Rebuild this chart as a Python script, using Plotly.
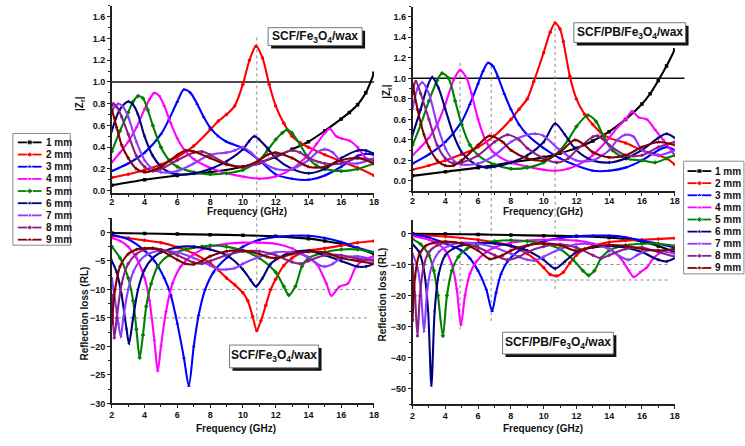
import plotly.graph_objects as go

FONT = "Liberation Sans, Arial, sans-serif"
W, H = 745, 446
F_MIN, F_MAX = 2, 18

THICKNESS = ["1 mm", "2 mm", "3 mm", "4 mm", "5 mm", "6 mm", "7 mm", "8 mm", "9 mm"]
COLORS = ["#000000", "#FF0000", "#0000FF", "#FF00FF", "#008000",
          "#000080", "#8F3BFF", "#8B1F8B", "#800000"]
SYMBOLS = ["square", "circle", "triangle-up", "triangle-down", "diamond",
           "triangle-left", "triangle-right", "hexagon", "star"]

# ---------------- |Zr| : SCF/Fe3O4/wax ----------------
za_f1 = [2, 4, 6, 8, 10, 12, 13, 14, 15, 16, 16.5, 17, 17.5, 18]
za_v1 = [0.05, 0.10, 0.14, 0.17, 0.22, 0.31, 0.38, 0.45, 0.55, 0.66, 0.72, 0.79, 0.90, 1.08]
za_f2 = [2, 3, 4, 5, 6, 7, 8, 8.5, 9, 9.5, 10, 10.4, 10.8, 11.2, 11.6, 12, 12.5, 13, 13.5, 14, 15, 16, 17, 18]
za_v2 = [0.12, 0.15, 0.19, 0.24, 0.31, 0.41, 0.56, 0.64, 0.70, 0.78, 0.98, 1.20, 1.33, 1.22, 0.98, 0.78,
         0.62, 0.50, 0.44, 0.40, 0.33, 0.27, 0.21, 0.14]
za_f3 = [2, 3, 4, 5, 5.5, 6, 6.4, 6.8, 7.2, 7.6, 8, 8.5, 9, 10, 11, 12, 13, 14, 15, 16, 17, 17.5, 18]
za_v3 = [0.18, 0.25, 0.35, 0.52, 0.66, 0.82, 0.93, 0.90, 0.80, 0.68, 0.58, 0.50, 0.45, 0.39, 0.28, 0.15,
         0.11, 0.10, 0.14, 0.22, 0.32, 0.34, 0.33]
za_f4 = [2, 2.5, 3, 3.5, 4, 4.3, 4.6, 4.9, 5.2, 5.6, 6, 6.5, 7, 8, 9, 10, 11, 12, 13, 13.5, 14, 14.5,
         15, 15.3, 15.7, 16, 16.5, 17, 17.5, 18]
za_v4 = [0.26, 0.35, 0.45, 0.58, 0.75, 0.84, 0.90, 0.87, 0.78, 0.62, 0.48, 0.36, 0.29, 0.21, 0.16, 0.13,
         0.11, 0.13, 0.20, 0.26, 0.33, 0.43, 0.53, 0.57, 0.50, 0.48, 0.46, 0.40, 0.30, 0.25]
za_f5 = [2, 2.5, 3, 3.3, 3.6, 3.9, 4.2, 4.5, 5, 5.5, 6, 7, 8, 9, 10, 11, 11.5, 12, 12.4, 12.7, 13, 13.5,
         14, 14.5, 15, 16, 17, 18]
za_v5 = [0.36, 0.55, 0.72, 0.82, 0.87, 0.85, 0.74, 0.60, 0.40, 0.28, 0.22, 0.17, 0.15, 0.16, 0.19, 0.28,
         0.37, 0.47, 0.53, 0.56, 0.53, 0.42, 0.30, 0.23, 0.20, 0.18, 0.20, 0.25]
za_f6 = [2, 2.5, 3, 3.3, 3.6, 4, 4.5, 5, 5.5, 6, 7, 8, 9, 10, 10.4, 10.7, 11, 11.5, 12, 13, 14, 15, 16,
         17, 17.5, 18]
za_v6 = [0.55, 0.75, 0.82, 0.79, 0.70, 0.50, 0.32, 0.22, 0.17, 0.15, 0.16, 0.20, 0.27, 0.38, 0.46, 0.50,
         0.47, 0.39, 0.30, 0.20, 0.16, 0.20, 0.30, 0.37, 0.37, 0.34]
za_f7 = [2, 2.2, 2.4, 2.7, 3, 3.5, 4, 4.5, 5, 6, 7, 8, 9, 9.5, 10, 10.5, 11, 12, 13, 14, 14.5, 15, 15.5,
         16, 17, 18]
za_v7 = [0.72, 0.78, 0.80, 0.77, 0.68, 0.45, 0.28, 0.20, 0.17, 0.18, 0.25, 0.33, 0.35, 0.37, 0.40, 0.35,
         0.28, 0.20, 0.20, 0.28, 0.35, 0.38, 0.35, 0.27, 0.25, 0.30]
za_f8 = [2, 2.1, 2.3, 2.6, 3, 3.5, 4, 4.5, 5, 6, 7, 7.5, 8, 9, 10, 11, 12, 13, 13.5, 14, 15, 16, 17, 18]
za_v8 = [0.78, 0.80, 0.77, 0.68, 0.52, 0.32, 0.22, 0.18, 0.20, 0.28, 0.35, 0.36, 0.33, 0.25, 0.22, 0.25,
         0.32, 0.37, 0.35, 0.30, 0.25, 0.25, 0.30, 0.28]
za_f9 = [2, 2.3, 2.6, 3, 3.5, 4, 5, 6, 6.5, 7, 8, 9, 10, 11, 11.5, 12, 13, 14, 15, 16, 17, 18]
za_v9 = [0.75, 0.58, 0.42, 0.30, 0.20, 0.17, 0.22, 0.33, 0.37, 0.36, 0.30, 0.24, 0.22, 0.28, 0.33, 0.35,
         0.30, 0.22, 0.22, 0.28, 0.30, 0.25]

# ---------------- |Zr| : SCF/PB/Fe3O4/wax ----------------
zb_f1 = [2, 4, 6, 8, 10, 11, 12, 13, 14, 15, 16, 16.5, 17, 17.5, 18]
zb_v1 = [0.05, 0.09, 0.13, 0.18, 0.23, 0.27, 0.32, 0.39, 0.48, 0.60, 0.75, 0.85, 0.98, 1.12, 1.28]
zb_f2 = [2, 3, 4, 5, 6, 7, 8, 8.5, 9, 9.4, 10, 10.4, 10.7, 11, 11.2, 11.6, 12, 12.5, 13, 13.5, 14, 15,
         16, 17, 17.5, 18]
zb_v2 = [0.11, 0.15, 0.20, 0.26, 0.33, 0.44, 0.60, 0.70, 0.80, 0.97, 1.25, 1.45, 1.54, 1.48, 1.36, 1.02,
         0.80, 0.65, 0.55, 0.47, 0.42, 0.37, 0.30, 0.25, 0.22, 0.16]
zb_f3 = [2, 3, 4, 5, 5.5, 6, 6.3, 6.6, 6.9, 7.2, 7.6, 8, 8.5, 9, 10, 11, 12, 13, 14, 15, 16, 17, 17.5, 18]
zb_v3 = [0.17, 0.26, 0.38, 0.58, 0.75, 0.95, 1.07, 1.15, 1.12, 1.02, 0.85, 0.70, 0.55, 0.45, 0.32, 0.22,
         0.15, 0.10, 0.10, 0.13, 0.20, 0.30, 0.33, 0.30]
zb_f4 = [2, 2.5, 3, 3.5, 4, 4.5, 4.9, 5.3, 5.6, 6, 6.5, 7, 8, 9, 10, 10.7, 11.5, 12, 13, 14, 14.5, 15,
         15.4, 15.8, 16.3, 16.8, 17.3, 18]
zb_v4 = [0.25, 0.33, 0.42, 0.55, 0.75, 0.98, 1.08, 1.00, 0.85, 0.60, 0.38, 0.27, 0.18, 0.14, 0.11, 0.10,
         0.12, 0.15, 0.25, 0.42, 0.52, 0.60, 0.68, 0.62, 0.60, 0.50, 0.40, 0.25]
zb_f5 = [2, 2.5, 3, 3.5, 3.8, 4.2, 4.6, 5, 5.5, 6, 7, 8, 9, 10, 11, 11.5, 12, 12.7, 13.2, 13.7, 14.2, 15,
         16, 16.8, 17.5, 18]
zb_v5 = [0.35, 0.55, 0.78, 0.98, 1.05, 1.00, 0.78, 0.55, 0.35, 0.25, 0.16, 0.12, 0.13, 0.18, 0.30, 0.40,
         0.53, 0.64, 0.58, 0.42, 0.30, 0.22, 0.20, 0.18, 0.22, 0.25]
zb_f6 = [2, 2.5, 2.9, 3.2, 3.6, 4, 4.5, 5, 5.5, 6, 6.5, 7, 8, 9, 10, 10.7, 11.3, 12, 13, 14, 15, 16, 17,
         17.5, 18]
zb_v6 = [0.45, 0.70, 0.92, 1.01, 0.90, 0.70, 0.45, 0.28, 0.20, 0.15, 0.13, 0.14, 0.18, 0.25, 0.38, 0.56,
         0.45, 0.30, 0.20, 0.18, 0.22, 0.30, 0.42, 0.46, 0.42]
zb_f7 = [2, 2.3, 2.6, 3, 3.5, 4, 4.5, 5, 6, 7, 8, 9, 9.5, 10, 11, 12, 13, 14, 14.5, 15, 15.5, 16, 17, 18]
zb_v7 = [0.70, 0.90, 0.96, 0.85, 0.55, 0.32, 0.20, 0.16, 0.17, 0.25, 0.38, 0.45, 0.46, 0.44, 0.30, 0.20,
         0.20, 0.30, 0.40, 0.45, 0.43, 0.30, 0.25, 0.30]
zb_f8 = [2, 2.2, 2.5, 3, 3.5, 4, 4.5, 5, 6, 7, 7.8, 8.5, 9, 10, 10.8, 11.5, 12, 13, 13.3, 14, 15, 16, 17, 18]
zb_v8 = [0.85, 0.97, 0.85, 0.60, 0.35, 0.22, 0.17, 0.18, 0.25, 0.38, 0.45, 0.40, 0.32, 0.22, 0.18, 0.22,
         0.30, 0.43, 0.44, 0.35, 0.25, 0.25, 0.33, 0.38]
zb_f9 = [2, 2.3, 2.7, 3, 3.5, 4, 4.5, 5, 6, 6.7, 7.5, 8, 9, 10, 11, 11.9, 12.5, 13, 14, 15, 16, 17, 18]
zb_v9 = [0.95, 0.70, 0.45, 0.33, 0.20, 0.15, 0.15, 0.20, 0.35, 0.44, 0.38, 0.30, 0.22, 0.20, 0.28, 0.40,
         0.35, 0.28, 0.23, 0.25, 0.33, 0.38, 0.35]

# ---------------- RL (dB) : SCF/Fe3O4/wax ----------------
ra_f1 = [2, 4, 6, 8, 10, 12, 14, 15, 16, 17, 18]
ra_v1 = [-0.1, -0.2, -0.3, -0.4, -0.5, -0.7, -1.1, -1.5, -2.0, -2.8, -3.8]
ra_f2 = [2, 3, 4, 5, 6, 7, 8, 8.5, 9, 9.5, 10, 10.3, 10.6, 10.85, 11.1, 11.4, 11.7, 12, 12.5, 13, 13.5,
         14, 15, 16, 17, 18]
ra_v2 = [-0.6, -1.0, -1.4, -1.8, -2.6, -3.7, -5.4, -6.6, -8.0, -9.2, -10.6, -12.0, -14.8, -17.2, -15.5,
         -12.8, -10.0, -8.2, -5.8, -4.5, -3.7, -3.2, -2.8, -2.3, -1.8, -1.5]
ra_f3 = [2, 3, 4, 4.6, 5.2, 5.6, 6, 6.4, 6.7, 7, 7.3, 7.7, 8.2, 9, 10, 11, 12, 13, 14, 15, 16, 17, 18]
ra_v3 = [-0.4, -1.2, -3.2, -5.0, -8.0, -11.0, -16.0, -22.0, -26.9, -20.0, -14.5, -10.0, -7.0, -4.5,
         -2.5, -1.3, -0.8, -0.6, -0.6, -1.0, -1.7, -2.7, -3.5]
ra_f4 = [2, 2.5, 3, 3.5, 4, 4.3, 4.6, 4.8, 5, 5.3, 5.7, 6.2, 7, 8, 9, 10, 11, 12, 13, 14, 14.5, 15.1,
         15.4, 15.9, 16.4, 16.9, 17.4, 18]
ra_v4 = [-1.0, -1.5, -2.5, -4.5, -8.0, -12.0, -19.0, -24.3, -20.0, -14.0, -9.0, -6.0, -3.8, -2.5, -2.0,
         -1.8, -1.8, -2.0, -2.8, -4.5, -5.5, -9.0, -11.1, -9.5, -9.0, -6.0, -4.8, -4.2]
ra_f5 = [2, 2.5, 3, 3.3, 3.5, 3.7, 3.9, 4.1, 4.4, 4.8, 5.5, 6.5, 7.5, 8, 9, 10, 11, 12, 12.5, 12.8, 13.2,
         13.6, 14, 15, 16, 17, 18]
ra_v5 = [-2.5, -4.5, -8.0, -12.0, -17.0, -22.0, -18.0, -13.0, -9.0, -6.0, -4.0, -3.0, -2.5, -2.3, -2.5,
         -3.2, -4.5, -7.0, -9.5, -11.0, -9.5, -6.0, -4.5, -3.5, -3.0, -3.0, -3.5]
ra_f6 = [2, 2.3, 2.6, 2.9, 3.05, 3.3, 3.6, 4, 4.5, 5, 6, 7, 8, 9, 10, 10.5, 10.8, 11.2, 11.7, 12.5, 13,
         14, 15, 16, 17, 17.5, 18]
ra_v6 = [-5.0, -7.0, -11.0, -17.0, -19.5, -15.0, -10.0, -6.5, -4.5, -3.5, -2.6, -2.5, -3.0, -4.0, -6.5,
         -8.5, -9.5, -8.0, -5.5, -4.0, -3.5, -3.2, -4.0, -5.0, -6.0, -6.0, -5.5]
ra_f7 = [2, 2.2, 2.4, 2.55, 2.7, 3, 3.3, 3.7, 4.2, 5, 6, 7, 8, 8.5, 9, 9.5, 10, 11, 12, 13, 14, 14.5, 15,
         15.5, 16, 17, 18]
ra_v7 = [-8.0, -12.0, -16.0, -18.3, -15.0, -10.0, -7.0, -5.0, -3.8, -3.2, -3.5, -4.5, -5.8, -6.5, -6.5,
         -6.3, -5.5, -4.3, -3.5, -3.5, -4.3, -5.5, -6.0, -5.5, -4.5, -4.2, -4.8]
ra_f8 = [2, 2.15, 2.3, 2.6, 3, 3.5, 4, 4.5, 5, 6, 7, 7.5, 8, 9, 10, 11, 12, 13, 13.5, 14, 15, 16, 17, 18]
ra_v8 = [-11.0, -18.5, -15.0, -9.0, -5.5, -3.8, -3.0, -2.8, -3.0, -4.0, -5.3, -5.5, -5.0, -4.0, -3.3,
         -3.3, -4.0, -5.2, -5.5, -5.0, -4.0, -4.0, -4.6, -5.0]
ra_f9 = [2, 2.2, 2.5, 3, 3.5, 4, 4.5, 5, 6, 6.5, 7, 7.5, 8, 9, 10, 11, 11.5, 12, 12.5, 13, 14, 15, 16,
         17, 18]
ra_v9 = [-16.0, -10.0, -6.0, -3.8, -3.0, -2.8, -2.8, -3.2, -4.8, -5.5, -5.6, -5.0, -4.2, -3.3, -3.2,
         -3.8, -4.3, -4.5, -4.2, -3.8, -3.4, -3.5, -4.5, -5.0, -5.5]

# ---------------- RL (dB) : SCF/PB/Fe3O4/wax ----------------
rb_f1 = [2, 4, 6, 8, 10, 12, 14, 15, 16, 17, 18]
rb_v1 = [-0.1, -0.2, -0.3, -0.5, -0.7, -0.9, -1.3, -1.8, -2.6, -4.0, -6.0]
rb_f2 = [2, 4, 6, 7, 8, 9, 9.5, 10, 10.4, 10.8, 11.2, 11.6, 12, 12.5, 13, 14, 15, 16, 17, 18]
rb_v2 = [-0.5, -1.0, -2.0, -2.8, -4.0, -6.5, -8.5, -11.0, -13.2, -13.7, -12.5, -9.5, -7.0, -5.0, -4.0,
         -2.8, -2.3, -2.0, -1.8, -1.5]
rb_f3 = [2, 3, 4, 5, 5.5, 6, 6.5, 6.85, 7.1, 7.4, 7.8, 8.5, 9, 10, 11, 12, 13, 14, 15, 16, 17, 18]
rb_v3 = [-0.3, -1.3, -3.2, -5.5, -8.0, -12.0, -18.0, -25.0, -19.0, -13.0, -9.0, -5.5, -4.0, -2.5, -1.5,
         -1.0, -0.7, -0.7, -1.2, -2.3, -3.3, -4.5]
rb_f4 = [2, 3, 3.5, 4, 4.4, 4.7, 4.95, 5.2, 5.5, 5.9, 6.5, 7, 8, 9, 10, 11, 12, 13, 14, 14.7, 15.2, 15.5,
         15.9, 16.3, 16.7, 17.2, 18]
rb_v4 = [-0.8, -2.0, -3.2, -5.5, -10.0, -18.0, -29.5, -20.0, -13.0, -9.0, -6.0, -4.5, -3.0, -2.3, -2.0,
         -2.0, -2.3, -3.2, -5.0, -8.0, -12.0, -14.0, -12.5, -11.0, -8.0, -6.0, -5.0]
rb_f5 = [2, 2.5, 3, 3.3, 3.55, 3.85, 4.1, 4.4, 4.8, 5.3, 6, 7, 8, 9, 10, 11, 11.8, 12.4, 12.75, 13.1,
         13.5, 14, 15, 16, 17, 18]
rb_v5 = [-1.8, -3.5, -7.0, -12.0, -20.0, -33.0, -20.0, -12.0, -7.5, -5.0, -3.5, -2.5, -2.2, -2.5, -3.2,
         -5.0, -8.5, -12.0, -13.5, -12.0, -8.0, -5.5, -3.8, -3.3, -3.3, -4.0]
rb_f6 = [2, 2.4, 2.7, 2.95, 3.15, 3.35, 3.6, 4, 4.5, 5, 6, 7, 8, 9, 10, 10.7, 11.3, 12, 13, 14, 15, 16,
         17, 17.5, 18]
rb_v6 = [-3.5, -6.0, -12.0, -25.0, -49.0, -25.0, -13.0, -7.0, -4.8, -3.8, -3.0, -3.2, -4.0, -5.5, -8.5,
         -11.3, -9.0, -6.0, -4.5, -4.0, -4.5, -6.0, -8.5, -9.0, -8.0]
rb_f7 = [2, 2.3, 2.5, 2.7, 2.9, 3.2, 3.6, 4.2, 5, 6, 7, 8, 9, 9.5, 10, 11, 12, 13, 14, 14.7, 15.2, 15.7,
         16.3, 17, 18]
rb_v7 = [-6.5, -11.0, -18.0, -31.5, -18.0, -10.0, -6.0, -4.0, -3.0, -3.3, -4.5, -6.5, -8.5, -8.7, -7.5,
         -5.0, -3.5, -3.5, -5.0, -7.5, -8.5, -7.0, -5.5, -5.5, -6.5]
rb_f8 = [2, 2.15, 2.3, 2.45, 2.7, 3, 3.5, 4, 5, 6, 7, 7.8, 8.5, 9, 10, 11, 12, 13, 13.5, 14, 15, 16, 17, 18]
rb_v8 = [-10.0, -20.0, -33.0, -20.0, -10.0, -6.0, -3.8, -3.0, -3.2, -4.5, -7.0, -8.5, -7.5, -6.0, -4.2,
         -3.5, -4.5, -7.0, -8.0, -7.0, -5.0, -4.5, -6.0, -7.5]
rb_f9 = [2, 2.15, 2.4, 2.8, 3.3, 4, 5, 6, 6.7, 7.5, 8, 9, 10, 11, 11.9, 12.5, 13, 14, 15, 16, 17, 18]
rb_v9 = [-28.0, -14.0, -7.0, -4.0, -3.0, -2.6, -3.2, -5.5, -8.2, -7.0, -5.5, -3.8, -3.2, -3.8, -5.5,
         -5.0, -4.2, -3.7, -4.0, -5.0, -5.5, -5.0]

# reference guides: matching frequencies (GHz) and the value span they cover
GUIDE_A_FREQ = [10.85]
GUIDE_A_TOP = [1.41]
GUIDE_A_BOTTOM = [-15.5]
GUIDE_B_FREQ = [4.9, 6.8, 10.7]
GUIDE_B_TOP = [1.15, 1.12, 1.55]
GUIDE_B_BOTTOM = [-31.0, -29.0, -18.0]
RL_LEVELS = [-10, -15]

LABEL_A = "SCF/Fe<sub>3</sub>O<sub>4</sub>/wax"
LABEL_B = "SCF/PB/Fe<sub>3</sub>O<sub>4</sub>/wax"

PANEL_DATA = {
    "tl": list(zip([za_f1, za_f2, za_f3, za_f4, za_f5, za_f6, za_f7, za_f8, za_f9],
                   [za_v1, za_v2, za_v3, za_v4, za_v5, za_v6, za_v7, za_v8, za_v9])),
    "tr": list(zip([zb_f1, zb_f2, zb_f3, zb_f4, zb_f5, zb_f6, zb_f7, zb_f8, zb_f9],
                   [zb_v1, zb_v2, zb_v3, zb_v4, zb_v5, zb_v6, zb_v7, zb_v8, zb_v9])),
    "bl": list(zip([ra_f1, ra_f2, ra_f3, ra_f4, ra_f5, ra_f6, ra_f7, ra_f8, ra_f9],
                   [ra_v1, ra_v2, ra_v3, ra_v4, ra_v5, ra_v6, ra_v7, ra_v8, ra_v9])),
    "br": list(zip([rb_f1, rb_f2, rb_f3, rb_f4, rb_f5, rb_f6, rb_f7, rb_f8, rb_f9],
                   [rb_v1, rb_v2, rb_v3, rb_v4, rb_v5, rb_v6, rb_v7, rb_v8, rb_v9])),
}

# panel geometry in pixels: left, right, top, bottom, y-min, y-max
GEOM = {
    "tl": (110, 375, 6.0, 195.0, -0.02, 1.7),
    "tr": (414, 679, 6.6, 193.4, -0.1, 1.7),
    "bl": (110, 375, 220.6, 408.0, -30, 2.5),
    "br": (414, 679, 222.0, 408.7, -55, 4.5),
}
AXES = {"tl": ("x", "y"), "tr": ("x2", "y2"), "bl": ("x3", "y3"), "br": ("x4", "y4")}
YTICK = {"tl": (0.2, 0.1, ".1f"), "tr": (0.2, 0.1, ".1f"), "bl": (5, 2.5, "d"), "br": (10, 5, "d")}
XLABEL_SHIFT = {"tl": -3, "tr": -3, "bl": -1, "br": -1}


def to_px(panel, f, v):
    x0, x1, y0, y1, ymin, ymax = GEOM[panel]
    px = x0 + (f - F_MIN) / (F_MAX - F_MIN) * (x1 - x0)
    py = y1 - (v - ymin) / (ymax - ymin) * (y1 - y0)
    return px, py


def pap_x(px):
    return px / W


def pap_y(py):
    return 1 - py / H


fig = go.Figure()

for panel, series in PANEL_DATA.items():
    xa, ya = AXES[panel]
    for i, (fs, vs) in enumerate(series):
        fig.add_trace(go.Scatter(
            x=fs, y=vs, xaxis=xa, yaxis=ya, mode="lines+markers",
            name=THICKNESS[i], showlegend=False, hoverinfo="skip",
            line=dict(color=COLORS[i], width=2.1, shape="spline", smoothing=0.8),
            marker=dict(symbol=SYMBOLS[i], size=3.5, color=COLORS[i]),
        ))

tick_font = dict(family=FONT, size=9, color="#111", weight="bold")
layout_axes = {}
for panel, (xa, ya) in AXES.items():
    x0, x1, y0, y1, ymin, ymax = GEOM[panel]
    xkey = "xaxis" + xa[1:]
    ykey = "yaxis" + ya[1:]
    major, minor, fmt = YTICK[panel]
    layout_axes[xkey] = dict(
        domain=[x0 / W, x1 / W], range=[F_MIN, F_MAX], anchor=ya,
        tick0=2, dtick=2, ticks="outside", ticklen=3, tickwidth=1.2, tickcolor="#222",
        minor=dict(ticks="outside", ticklen=2, dtick=1, tick0=2, tickcolor="#222"),
        showline=True, linecolor="#222", linewidth=1.5, showgrid=False, zeroline=False,
        tickfont=tick_font, ticklabelstandoff=XLABEL_SHIFT[panel], fixedrange=True,
    )
    layout_axes[ykey] = dict(
        domain=[pap_y(y1), pap_y(y0)], range=[ymin, ymax], anchor=xa,
        tick0=0, dtick=major, tickformat=fmt, ticks="outside", ticklen=3, tickwidth=1.2,
        tickcolor="#222",
        minor=dict(ticks="outside", ticklen=2, dtick=minor, tick0=0, tickcolor="#222"),
        showline=True, linecolor="#222", linewidth=1.5, showgrid=False, zeroline=False,
        tickfont=tick_font, fixedrange=True,
    )

# full-figure overlay axis used for the hand-drawn legends
layout_axes["xaxis5"] = dict(domain=[0, 1], range=[0, W], anchor="y5", visible=False, fixedrange=True)
layout_axes["yaxis5"] = dict(domain=[0, 1], range=[H, 0], anchor="x5", visible=False, fixedrange=True)

shapes = []
annotations = []

# |Zr| = 1 reference lines
for panel, f_end in (("tl", 18.0), ("tr", 18.6)):
    xs, ys = to_px(panel, F_MIN, 1.0)
    xe, _ = to_px(panel, f_end, 1.0)
    shapes.append(dict(type="line", xref="paper", yref="paper", x0=pap_x(xs), x1=pap_x(xe),
                       y0=pap_y(ys), y1=pap_y(ys), line=dict(color="#111", width=1.5), layer="below"))

# dotted guides through the matching frequencies
guide_style = dict(color="#8a8a8a", width=1, dash="dot")
for top, bot, freqs, tops, bots in (("tl", "bl", GUIDE_A_FREQ, GUIDE_A_TOP, GUIDE_A_BOTTOM),
                                     ("tr", "br", GUIDE_B_FREQ, GUIDE_B_TOP, GUIDE_B_BOTTOM)):
    for f, vt, vb in zip(freqs, tops, bots):
        xt, yt = to_px(top, f, vt)
        _, yb = to_px(bot, f, vb)
        shapes.append(dict(type="line", xref="paper", yref="paper", x0=pap_x(xt), x1=pap_x(xt),
                           y0=pap_y(yt), y1=pap_y(yb), line=guide_style, layer="below"))

for panel, f_end in (("bl", 17.6), ("br", 17.7)):
    for lvl in RL_LEVELS:
        xs, ys = to_px(panel, F_MIN, lvl)
        xe, _ = to_px(panel, f_end, lvl)
        shapes.append(dict(type="line", xref="paper", yref="paper", x0=pap_x(xs), x1=pap_x(xe),
                           y0=pap_y(ys), y1=pap_y(ys), line=guide_style, layer="below"))

# sample labels with a drop shadow
for (bx0, by0, bx1, by1), text in (((268, 28, 363, 46), LABEL_A), ((577, 23, 690, 43), LABEL_B),
                                   ((229, 349, 319, 372), LABEL_A), ((505, 336, 617, 358), LABEL_B)):
    shapes.append(dict(type="rect", xref="paper", yref="paper",
                       x0=pap_x(bx0 + 3), x1=pap_x(bx1 + 3), y0=pap_y(by1 + 3), y1=pap_y(by0 + 3),
                       fillcolor="#111", line=dict(width=0)))
    shapes.append(dict(type="rect", xref="paper", yref="paper",
                       x0=pap_x(bx0), x1=pap_x(bx1), y0=pap_y(by1), y1=pap_y(by0),
                       fillcolor="white", line=dict(color="#777", width=1)))
    annotations.append(dict(xref="paper", yref="paper", x=pap_x((bx0 + bx1) / 2),
                            y=pap_y((by0 + by1) / 2), text=text, showarrow=False,
                            xanchor="center", yanchor="middle",
                            font=dict(family=FONT, size=12, color="#111", weight="bold")))

# axis titles
title_font = dict(family=FONT, size=10, color="#111", weight="bold")
for cx, cy in ((247, 214), (546, 214), (236, 433), (546, 433)):
    annotations.append(dict(xref="paper", yref="paper", x=pap_x(cx), y=pap_y(cy),
                            text="Frequency (GHz)", showarrow=False, xanchor="center",
                            yanchor="middle", font=title_font))
for cx, cy, text in ((78, 105, "|Z<sub>r</sub>|"), (388, 92, "|Z<sub>r</sub>|"),
                     (82, 317, "Reflection loss (RL)"), (384, 298, "Reflection loss (RL)")):
    annotations.append(dict(xref="paper", yref="paper", x=pap_x(cx), y=pap_y(cy), text=text,
                            showarrow=False, textangle=-90, xanchor="center", yanchor="middle",
                            font=title_font))

# legends (left and right)
legend_font = dict(family=FONT, size=10, color="#111", weight="bold")
for (bx0, by0, bx1, by1), row0, step, lx0, lx1, tx in (((10, 135, 68, 248), 144.0, 12.3, 15, 39, 41),
                                                     ((688, 163, 749, 277), 173.0, 12.25, 692, 716, 718)):
    shapes.append(dict(type="rect", xref="paper", yref="paper", x0=pap_x(bx0), x1=pap_x(bx1),
                       y0=pap_y(by1), y1=pap_y(by0), fillcolor="white",
                       line=dict(color="#8a8a8a", width=1), layer="below"))
    for i, name in enumerate(THICKNESS):
        ry = row0 + i * step
        fig.add_trace(go.Scatter(
            x=[lx0, (lx0 + lx1) / 2, lx1], y=[ry, ry, ry], xaxis="x5", yaxis="y5",
            mode="lines+markers", showlegend=False, hoverinfo="skip",
            line=dict(color=COLORS[i], width=1.8),
            marker=dict(symbol=SYMBOLS[i], size=[0, 5, 0], color=COLORS[i]),
        ))
        annotations.append(dict(xref="paper", yref="paper", x=pap_x(tx), y=pap_y(ry), text=name,
                                showarrow=False, xanchor="left", yanchor="middle", font=legend_font))

fig.update_layout(
    width=W, height=H, margin=dict(l=0, r=0, t=0, b=0),
    paper_bgcolor="white", plot_bgcolor="rgba(0,0,0,0)",
    showlegend=False, shapes=shapes, annotations=annotations,
    font=dict(family=FONT, color="#111"),
    **layout_axes,
)

fig.write_html("out.html")
